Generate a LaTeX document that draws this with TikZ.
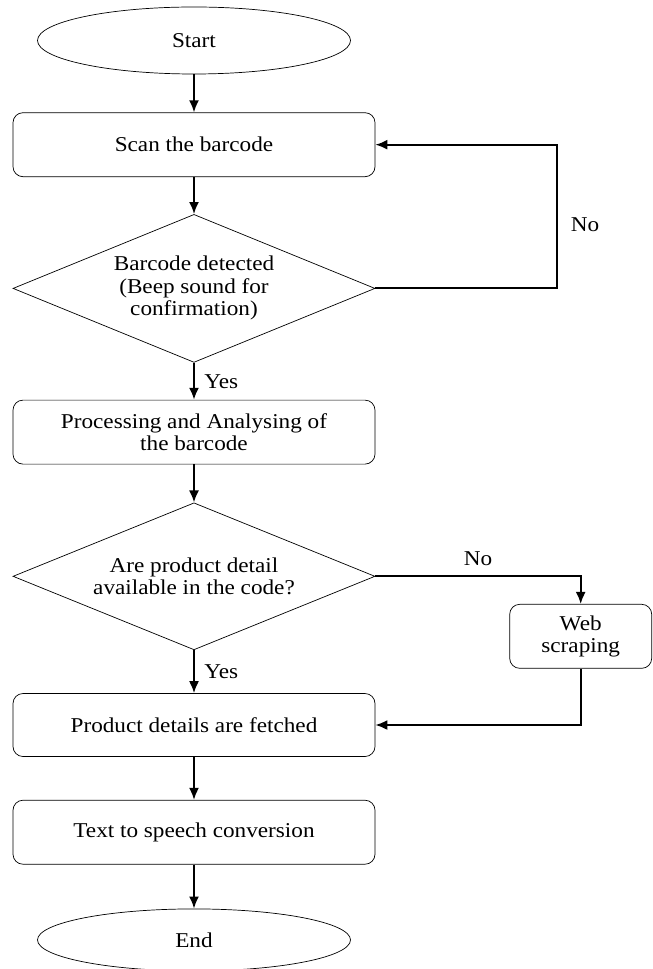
\documentclass[tikz,border=0pt]{standalone}
\usepackage{fontspec}
\setmainfont{Liberation Serif}[FakeStretch=1.1]
\usetikzlibrary{arrows.meta,positioning,shapes.geometric}

\begin{document}
\begin{tikzpicture}[
    every node/.style={font=\fontsize{12}{12.8}\selectfont},
    terminal/.style={draw, ellipse, thin, minimum width=6.26cm, minimum height=1.34cm},
    box/.style={draw, rounded corners=0.2cm, thin, align=center, minimum width=7.24cm, minimum height=1.28cm},
    smallbox/.style={draw, rounded corners=0.2cm, thin, align=center, minimum width=2.84cm, minimum height=1.28cm},
    decision/.style={draw, diamond, thin, align=center, aspect=2.45, inner sep=0pt, minimum width=7.24cm, minimum height=2.96cm},
    flow/.style={-{Latex[length=2.4mm, width=2mm]}, line width=1.1pt}
]
\useasboundingbox (0,0) rectangle (13.04,-19.38);
\node[terminal] (start) at (3.88,-0.81) {Start};
\node[box, below=0.76cm of start] (scan) {Scan the barcode};
\node[decision, below=0.74cm of scan] (detect) {Barcode detected\\(Beep sound for\\confirmation)};
\node[box, below=0.74cm of detect] (proc) {Processing and Analysing of\\the barcode};
\node[decision, below=0.76cm of proc, minimum height=2.94cm] (avail) {Are product detail\\available in the code?};
\node[box, below=0.86cm of avail, minimum height=1.26cm] (fetch) {Product details are fetched};
\node[box, below=0.86cm of fetch] (tts) {Text to speech conversion};
\node[terminal, below=0.88cm of tts, minimum height=1.24cm] (end) {End};
\node[smallbox, right=2.68cm of avail.east, yshift=-1.2cm] (web) {Web\\scraping};
\coordinate (backturn) at (11.14,0);

\draw[flow] (start) -- (scan);
\draw[flow] (scan) -- (detect);
\draw[flow] (detect) -- node[right=2pt] {Yes} (proc);
\draw[flow] (proc) -- (avail);
\draw[flow] (avail) -- node[right=2pt] {Yes} (fetch);
\draw[flow] (fetch) -- (tts);
\draw[flow] (tts) -- (end);
\draw[flow] (detect.east) -| node[pos=0.72, right=4pt] {No} (backturn |- scan.east) -- (scan.east);
\draw[flow] (avail.east) -| node[pos=0.25, above=2pt] {No} (web.north);
\draw[flow] (web.south) |- (fetch.east);
\end{tikzpicture}
\end{document}
